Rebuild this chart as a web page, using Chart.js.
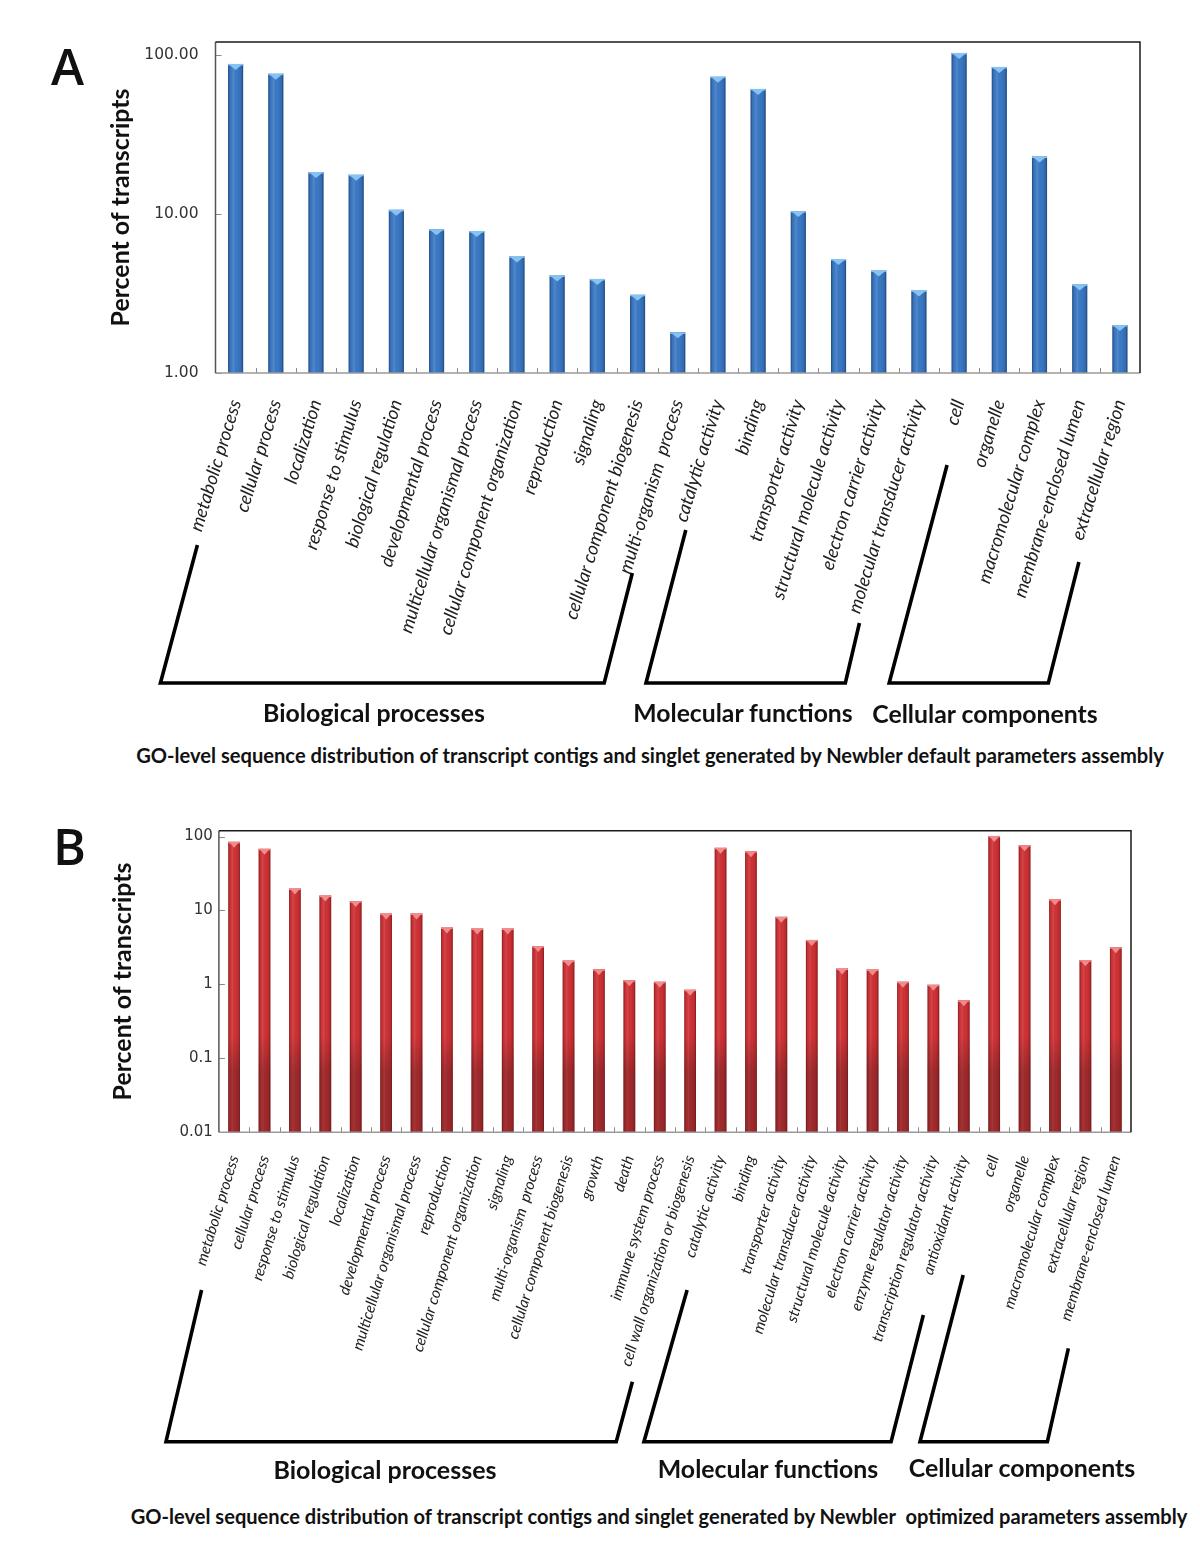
<!DOCTYPE html>
<html><head><meta charset="utf-8">
<script src="https://cdn.jsdelivr.net/npm/chart.js@4.4.1/dist/chart.umd.min.js"></script>
<style>
html,body{margin:0;padding:0;background:#fff;}
body{width:1200px;height:1567px;position:relative;overflow:hidden;font-family:Lato,sans-serif;}
canvas{position:absolute;left:0;}
.txt{position:absolute;white-space:pre;color:#111;font-family:Lato,sans-serif;font-weight:700;line-height:1;transform:translate(-50%,-50%);}
.letter{position:absolute;font-family:'Open Sans',sans-serif;font-weight:600;font-size:50px;line-height:1;color:#111;}
</style></head><body>
<div class="letter" style="left:51px;top:41px">A</div>
<div class="letter" style="left:53px;top:821px">B</div>
<canvas id="chartA" width="1200" height="700" style="top:0"></canvas>
<canvas id="chartB" width="1200" height="680" style="top:780px"></canvas>
<div id="gA0" class="txt"></div><div id="gA1" class="txt"></div><div id="gA2" class="txt"></div>
<div id="capA" class="txt"></div>
<div id="gB0" class="txt"></div><div id="gB1" class="txt"></div><div id="gB2" class="txt"></div>
<div id="capB" class="txt"></div>
<script>
// ---------- DATA ----------
const categoriesA = ['metabolic process','cellular process','localization','response to stimulus','biological regulation','developmental process','multicellular organismal process','cellular component organization','reproduction','signaling','cellular component biogenesis','multi-organism  process','catalytic activity','binding','transporter activity','structural molecule activity','electron carrier activity','molecular transducer activity','cell','organelle','macromolecular complex','membrane-enclosed lumen','extracellular region'];
const valuesA = [87.4, 75.9, 18.3, 17.6, 10.6, 8.0, 7.8, 5.4, 4.1, 3.9, 3.1, 1.8, 72.7, 60.9, 10.4, 5.2, 4.4, 3.3, 102.5, 83.7, 22.9, 3.6, 2.0];
const tickValuesA = [1, 10, 100];
const tickLabelsA = ['1.00', '10.00', '100.00'];
const groupNamesA = ['Biological processes', 'Molecular functions', 'Cellular components'];
const captionA = 'GO-level sequence distribution of transcript contigs and singlet generated by Newbler default parameters assembly';

const categoriesB = ['metabolic process','cellular process','response to stimulus','biological regulation','localization','developmental process','multicellular organismal process','reproduction','cellular component organization','signaling','multi-organism  process','cellular component biogenesis','growth','death','immune system process','cell wall organization or biogenesis','catalytic activity','binding','transporter activity','molecular transducer activity','structural molecule activity','electron carrier activity','enzyme regulator activity','transcription regulator activity','antioxidant activity','cell','organelle','macromolecular complex','extracellular region','membrane-enclosed lumen'];
const valuesB = [84.8, 68.2, 19.8, 15.9, 13.4, 9.1, 9.1, 5.9, 5.7, 5.7, 3.3, 2.1, 1.6, 1.14, 1.09, 0.85, 70.3, 63.4, 8.2, 4.0, 1.64, 1.59, 1.09, 0.99, 0.61, 102, 76.5, 14.2, 2.13, 3.19];
const tickValuesB = [0.01, 0.1, 1, 10, 100];
const tickLabelsB = ['0.01', '0.1', '1', '10', '100'];
const groupNamesB = ['Biological processes', 'Molecular functions', 'Cellular components'];
const captionB = 'GO-level sequence distribution of transcript contigs and singlet generated by Newbler  optimized parameters assembly';
const yTitle = 'Percent of transcripts';

// ---------- helpers ----------
const mctx = document.createElement('canvas').getContext('2d');
function fitSize(text, font, target) {
  mctx.font = font.replace('SIZE', '100px');
  return 100 * target / mctx.measureText(text).width;
}
function placeText(id, text, cx, cy, target) {
  const el = document.getElementById(id);
  el.textContent = text;
  const size = fitSize(text, 'bold SIZE Lato', target);
  el.style.fontSize = size.toFixed(2) + 'px';
  el.style.left = cx + 'px';
  el.style.top = cy + 'px';
}

const decor = {
  id: 'decor',
  afterDatasetsDraw(chart, args, o) {
    const ctx = chart.ctx, ca = chart.chartArea;
    const meta = chart.getDatasetMeta(0);
    ctx.save();
    meta.data.forEach(bar => {
      const w = bar.width, x0 = bar.x - w / 2, y0 = bar.y, y1 = bar.base;
      const g = ctx.createLinearGradient(x0, 0, x0 + w, 0);
      g.addColorStop(0, o.edgeL);
      g.addColorStop(0.12, 'rgba(0,0,0,0.05)');
      g.addColorStop(0.35, o.hi);
      g.addColorStop(0.6, 'rgba(0,0,0,0)');
      g.addColorStop(0.88, 'rgba(0,0,0,0.12)');
      g.addColorStop(1, o.edgeR);
      ctx.fillStyle = g;
      ctx.fillRect(x0, y0, w, y1 - y0);
      if (o.bottomShade) {
        const ys = ca.top + (ca.bottom - ca.top) * 0.68, ye = ca.top + (ca.bottom - ca.top) * 0.8;
        const gv = ctx.createLinearGradient(0, ys, 0, ye);
        gv.addColorStop(0, 'rgba(70,20,20,0)');
        gv.addColorStop(1, o.bottomShade);
        ctx.fillStyle = gv;
        const top = Math.max(y0, ys);
        ctx.fillRect(x0, top, w, y1 - top);
      }
      // top cap
      ctx.fillStyle = o.cap;
      ctx.fillRect(x0, y0, w, 1.5);
      ctx.beginPath();
      ctx.moveTo(x0 + 1.5, y0 + 1);
      ctx.lineTo(x0 + w - 1.5, y0 + 1);
      ctx.lineTo(bar.x, y0 + o.capH);
      ctx.closePath();
      ctx.fill();
    });
    ctx.restore();
  },
  afterDraw(chart, args, o) {
    const ctx = chart.ctx, ca = chart.chartArea;
    const xs = chart.scales.x, ys = chart.scales.y;
    ctx.save();
    ctx.strokeStyle = '#8a8a8a'; ctx.lineWidth = 1;
    const n = chart.data.labels.length;
    for (let i = 1; i < n; i++) {
      const x = Math.round(xs.getPixelForValue(i - 0.5)) + 0.5;
      ctx.beginPath(); ctx.moveTo(x, ca.bottom); ctx.lineTo(x, ca.bottom - 5); ctx.stroke();
    }
    ys.ticks.forEach(t => {
      const y = Math.round(ys.getPixelForValue(t.value)) + 0.5;
      ctx.beginPath(); ctx.moveTo(ca.left, y); ctx.lineTo(ca.left + 6, y); ctx.stroke();
    });
    ctx.lineWidth = 1.5;
    ctx.strokeStyle = '#9a9a9a';
    ctx.beginPath(); ctx.moveTo(ca.left, ca.bottom); ctx.lineTo(ca.right, ca.bottom); ctx.stroke();
    ctx.strokeStyle = '#555';
    ctx.beginPath(); ctx.moveTo(ca.left, ca.bottom); ctx.lineTo(ca.left, ca.top); ctx.stroke();
    ctx.strokeStyle = '#1a1a1a';
    ctx.beginPath(); ctx.moveTo(ca.left, ca.top); ctx.lineTo(ca.right, ca.top); ctx.lineTo(ca.right, ca.bottom); ctx.stroke();
    ctx.strokeStyle = '#000'; ctx.lineWidth = 3.6; ctx.lineJoin = 'miter'; ctx.lineCap = 'butt';
    o.brackets.forEach(b => {
      ctx.beginPath();
      b.forEach((p, i) => {
        const x = xs.getPixelForValue(p[0]);
        if (i === 0) ctx.moveTo(x, p[1]); else ctx.lineTo(x, p[1]);
      });
      ctx.stroke();
    });
    ctx.restore();
  }
};

function makeChart(id, cats, vals, tickVals, tickLabels, cfg) {
  return new Chart(document.getElementById(id), {
    type: 'bar',
    data: { labels: cats, datasets: [{ data: vals, backgroundColor: cfg.color, borderWidth: 0, barPercentage: cfg.barPct, categoryPercentage: 1 }] },
    options: {
      responsive: false, animation: false, devicePixelRatio: 1,
      layout: { padding: { top: cfg.top, right: 1200 - cfg.right, left: 0, bottom: 0 } },
      plugins: { legend: { display: false }, tooltip: { enabled: false }, decor: cfg.decor },
      scales: {
        x: {
          type: 'category', offset: true,
          grid: { display: false, drawTicks: false }, border: { display: false },
          ticks: { autoSkip: false, maxRotation: cfg.rot, minRotation: cfg.rot, padding: cfg.xPad,
                   font: { family: 'Lato', style: 'italic', size: cfg.labelSize }, color: '#1e1e1e' },
          afterFit(s) { s.height = cfg.h - cfg.bottom; }
        },
        y: {
          type: 'logarithmic', min: cfg.min, max: cfg.max,
          grid: { display: false, drawTicks: false }, border: { display: false },
          ticks: { padding: cfg.yPad, font: { family: 'DejaVu Sans', size: cfg.tickSize }, color: '#333',
                   callback: (v) => { const k = tickVals.findIndex(t => Math.abs(t - v) / t < 1e-6); return k >= 0 ? tickLabels[k] : ''; } },
          afterBuildTicks(s) { s.ticks = tickVals.map(v => ({ value: v })); },
          title: { display: true, text: yTitle, color: '#111',
                   font: { family: 'Lato', weight: 'bold', size: cfg.titleSize, lineHeight: 1.2 },
                   padding: { top: cfg.titleX - cfg.titleSize * 0.6, bottom: 0 } },
          afterFit(s) { s.width = cfg.left; }
        }
      }
    },
    plugins: [decor]
  });
}

const titleSize = fitSize(yTitle, 'bold SIZE Lato', 238);
const labelSizeA = fitSize('multicellular organismal process', 'italic SIZE Lato', 243);
const labelSizeB = fitSize('multicellular organismal process', 'italic SIZE Lato', 203);

makeChart('chartA', categoriesA, valuesA, tickValuesA, tickLabelsA, {
  color: '#3a79c6', barPct: 0.375, top: 42, right: 1140, left: 215.5, bottom: 373, h: 700,
  min: 1, max: 120, rot: 73, xPad: 24, labelSize: labelSizeA, yPad: 17, tickSize: 15.5,
  titleSize: titleSize, titleX: 121,
  decor: {
    edgeL: 'rgba(20,45,90,0.55)', edgeR: 'rgba(20,45,90,0.6)', hi: 'rgba(255,255,255,0.12)',
    cap: '#86c2f2', capH: 6, bottomShade: null,
    brackets: [
      [[-0.95, 545], [-1.87, 683], [9.17, 683], [9.87, 573]],
      [[11.20, 530], [10.21, 683], [15.17, 683], [15.52, 623]],
      [[17.70, 465], [16.26, 683], [20.22, 683], [20.98, 562]]
    ]
  }
});

makeChart('chartB', categoriesB, valuesB, tickValuesB, tickLabelsB, {
  color: '#d03236', barPct: 0.385, top: 50.7, right: 1131, left: 218.9, bottom: 352.3, h: 680,
  min: 0.01, max: 120, rot: 73, xPad: 21, labelSize: labelSizeB, yPad: 6, tickSize: 15,
  titleSize: titleSize, titleX: 122.5,
  decor: {
    edgeL: 'rgba(90,15,15,0.55)', edgeR: 'rgba(90,15,15,0.6)', hi: 'rgba(255,255,255,0.1)',
    cap: '#f28b8b', capH: 6, bottomShade: 'rgba(70,25,25,0.35)',
    brackets: [
      [[-1.07, 510], [-2.24, 661.7], [12.57, 661.7], [13.10, 601.7]],
      [[14.90, 510], [13.48, 661.7], [21.61, 661.7], [22.67, 535]],
      [[23.98, 495], [22.56, 661.7], [26.75, 661.7], [27.44, 568.3]]
    ]
  }
});

placeText('gA0', groupNamesA[0], 374, 712, 222);
placeText('gA1', groupNamesA[1], 743, 713, 220);
placeText('gA2', groupNamesA[2], 985, 714, 226);
placeText('capA', captionA, 650, 755, 1030);
placeText('gB0', groupNamesB[0], 385, 1469, 223);
placeText('gB1', groupNamesB[1], 768, 1468, 221);
placeText('gB2', groupNamesB[2], 1022, 1467, 227);
placeText('capB', captionB, 659, 1516, 1058);
</script>
</body></html>
